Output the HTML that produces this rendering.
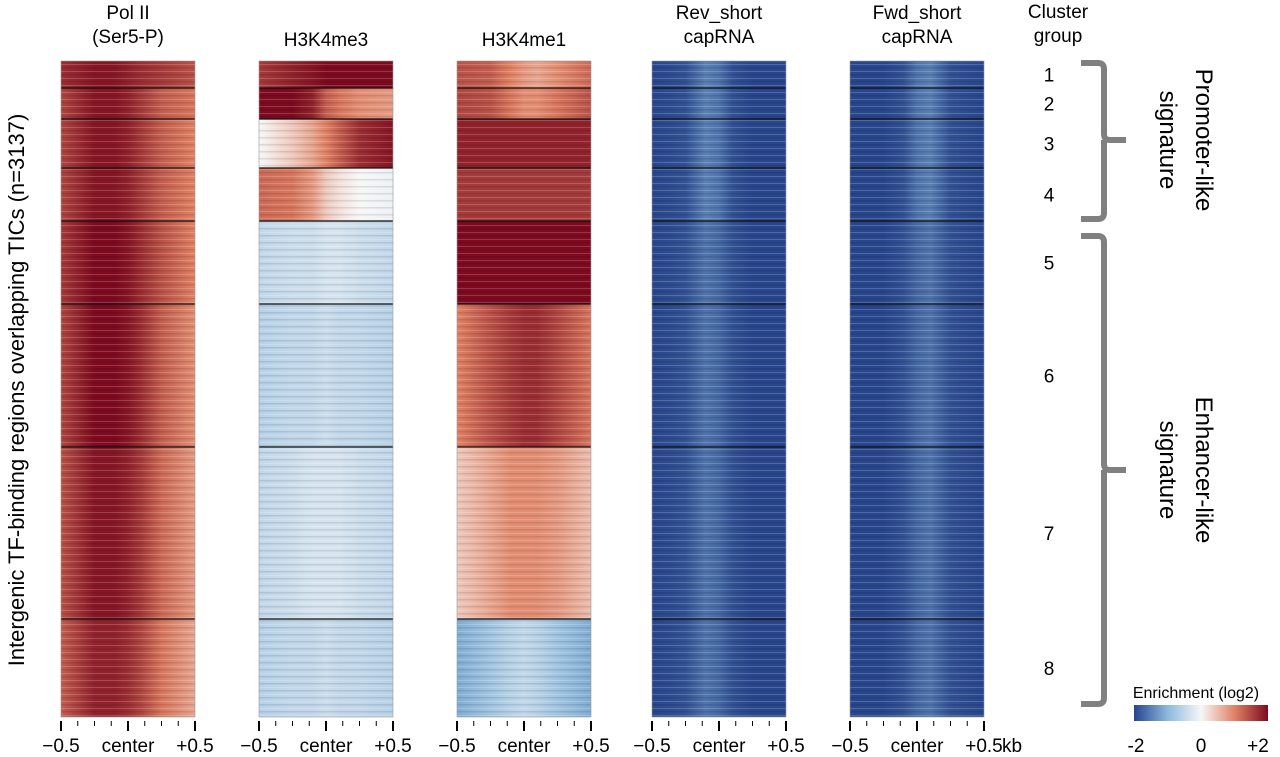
<!DOCTYPE html>
<html><head><meta charset="utf-8">
<style>
html,body{margin:0;padding:0;background:#fff;}
svg{display:block;font-family:"Liberation Sans",Arial,sans-serif;}
</style></head>
<body>
<svg id="chart" width="1280" height="757" viewBox="0 0 1280 757">
<defs id="defs">
<linearGradient id="cbar" x1="0" x2="1"><stop offset="0" stop-color="rgb(38,68,145)"/><stop offset="0.25" stop-color="rgb(140,185,220)"/><stop offset="0.5" stop-color="rgb(247,247,247)"/><stop offset="0.75" stop-color="rgb(225,130,100)"/><stop offset="1" stop-color="rgb(125,10,30)"/></linearGradient>
</defs>
<g id="panels"></g>
<g id="labels"></g>
<text x="1058" y="18" font-size="19" text-anchor="middle">Cluster</text>
<text x="1058" y="42" font-size="19" text-anchor="middle">group</text>
<text x="1002" y="752" font-size="19">kb</text>
<text transform="translate(24,390) rotate(-90)" font-size="22" text-anchor="middle">Intergenic TF-binding regions overlapping TICs (n=3137)</text>
<path d="M1081,63 L1098,63 Q1104,63 1104,69 L1104,134 Q1104,140 1110,140 L1126,140 M1104,140 Q1104,146 1104,152 L1104,213 Q1104,219 1098,219 L1081,219" fill="none" stroke="#808080" stroke-width="6"/>
<path d="M1081,236 L1098,236 Q1104,236 1104,242 L1104,464 Q1104,470 1110,470 L1126,470 M1104,470 L1104,698 Q1104,704 1098,704 L1081,704" fill="none" stroke="#808080" stroke-width="6"/>
<text transform="translate(1196,140) rotate(90)" font-size="24" text-anchor="middle">Promoter-like</text>
<text transform="translate(1160,140) rotate(90)" font-size="24" text-anchor="middle">signature</text>
<text transform="translate(1196,470) rotate(90)" font-size="24" text-anchor="middle">Enhancer-like</text>
<text transform="translate(1160,470) rotate(90)" font-size="24" text-anchor="middle">signature</text>
<text x="1196" y="698" font-size="16" text-anchor="middle">Enrichment (log2)</text>
<rect x="1134" y="705" width="134" height="16" fill="url(#cbar)"/>
<text x="1136" y="752" font-size="19" text-anchor="middle">-2</text>
<text x="1201" y="752" font-size="19" text-anchor="middle">0</text>
<text x="1258" y="752" font-size="19" text-anchor="middle">+2</text>
</svg>
<script>
// ---- data ----
const panelTitles = [["Pol II","(Ser5-P)"],["H3K4me3"],["H3K4me1"],["Rev_short","capRNA"],["Fwd_short","capRNA"]];
const clusterNames = ["1","2","3","4","5","6","7","8"];
const clusterSizes = [27,31,49,53,83,143,172,98];
const xPositions = [-0.5,-0.25,-0.1,0,0.1,0.25,0.5];
const tickLabels = ["\u22120.5","center","+0.5"];
const polII = [
 [1.7,1.9,1.9,1.8,1.7,1.6,1.4],[1.5,1.9,1.9,1.8,1.6,1.3,1.1],[1.5,1.9,1.9,1.8,1.6,1.3,1.0],
 [1.5,1.9,1.9,1.8,1.6,1.3,1.0],[1.6,2.0,2.0,1.9,1.7,1.4,1.0],[1.5,2.0,2.0,1.9,1.7,1.3,0.9],
 [1.4,1.9,1.9,1.8,1.6,1.2,0.8],[1.3,1.8,1.8,1.7,1.5,1.1,0.7]];
const h3k4me3 = [
 [1.6,1.8,1.9,2.0,2.0,2.0,2.0],[2.0,2.0,1.8,1.3,1.1,0.9,0.8],[0.0,0.4,0.7,1.0,1.3,1.7,1.9],
 [1.2,1.1,0.8,0.4,0.2,0.0,-0.1],[-0.5,-0.4,-0.4,-0.3,-0.3,-0.4,-0.5],[-0.6,-0.5,-0.5,-0.4,-0.5,-0.5,-0.6],
 [-0.5,-0.4,-0.3,-0.3,-0.3,-0.4,-0.5],[-0.6,-0.5,-0.5,-0.4,-0.5,-0.5,-0.6]];
const h3k4me1 = [
 [1.4,1.3,1.0,0.8,0.7,0.9,1.2],[1.5,1.4,1.1,0.9,0.9,1.1,1.4],[1.8,1.8,1.8,1.8,1.8,1.8,1.8],
 [1.6,1.6,1.6,1.6,1.6,1.6,1.6],[2.0,2.0,2.0,2.0,2.0,2.0,2.0],[1.0,1.4,1.6,1.7,1.7,1.5,1.1],
 [0.4,0.7,0.9,0.9,0.9,0.8,0.5],[-1.1,-0.8,-0.6,-0.5,-0.6,-0.8,-1.1]];
const revCap = [
 [-2.0,-1.9,-1.5,-1.6,-1.9,-2.0,-2.0],[-2.0,-1.9,-1.5,-1.6,-1.9,-2.0,-2.0],[-2.0,-1.9,-1.5,-1.6,-1.9,-2.0,-2.0],
 [-2.0,-1.9,-1.5,-1.6,-1.9,-2.0,-2.0],[-2.0,-1.9,-1.6,-1.7,-1.9,-2.0,-2.0],[-2.0,-1.9,-1.6,-1.7,-1.9,-2.0,-2.0],
 [-2.0,-1.9,-1.6,-1.7,-1.9,-2.0,-2.0],[-2.0,-1.9,-1.6,-1.7,-1.9,-2.0,-2.0]];
const fwdCap = [
 [-2.0,-2.0,-1.9,-1.6,-1.5,-1.9,-2.0],[-2.0,-2.0,-1.9,-1.6,-1.5,-1.9,-2.0],[-2.0,-2.0,-1.9,-1.6,-1.5,-1.9,-2.0],
 [-2.0,-2.0,-1.9,-1.6,-1.5,-1.9,-2.0],[-2.0,-2.0,-1.9,-1.7,-1.6,-1.9,-2.0],[-2.0,-2.0,-1.9,-1.7,-1.6,-1.9,-2.0],
 [-2.0,-2.0,-1.9,-1.7,-1.6,-1.9,-2.0],[-2.0,-2.0,-1.9,-1.7,-1.6,-1.9,-2.0]];
const panelData = [polII,h3k4me3,h3k4me1,revCap,fwdCap];
const panelNames = ["pol-ii","h3k4me3","h3k4me1","rev-capRNA","fwd-capRNA"];

// ---- layout ----
const NS="http://www.w3.org/2000/svg";
const panelLeft=[61,259,457,652,850], panelW=134, plotTop=61, plotBottom=717;
const totalRows=clusterSizes.reduce((a,b)=>a+b,0);
function yScale(n){return plotTop+(plotBottom-plotTop)*n/totalRows;}
function xScale(i,v){return panelLeft[i]+(v+0.5)*panelW;}
const cstops=[[-2,[40,70,140]],[-1,[140,185,220]],[0,[247,247,247]],[1,[225,130,100]],[2,[125,10,30]]];
function color(v){v=Math.max(-2,Math.min(2,v));for(let k=0;k<cstops.length-1;k++){const a=cstops[k],b=cstops[k+1];if(v<=b[0]){const t=(v-a[0])/(b[0]-a[0]);return "rgb("+a[1].map((c,j)=>Math.round(c+(b[1][j]-c)*t)).join(",")+")";}}return "rgb(125,10,30)";}
function mk(tag,attrs,parent){const e=document.createElementNS(NS,tag);for(const k in attrs)e.setAttribute(k,attrs[k]);parent.appendChild(e);return e;}
const defsEl=document.getElementById('defs'), G=document.getElementById('panels'), L=document.getElementById('labels');
const pat=mk('pattern',{id:'tex',width:'11',height:'7',patternUnits:'userSpaceOnUse'},defsEl);
mk('rect',{x:0,y:1,width:11,height:1,fill:'#fff',opacity:'0.18'},pat);
mk('rect',{x:0,y:4,width:11,height:1.5,fill:'#000',opacity:'0.1'},pat);

panelData.forEach((data,i)=>{
  const g=mk('g',{},G);
  
  
  let cum=0;
  data.forEach((prof,c)=>{
    const id='g'+i+'_'+c;
    const lg=mk('linearGradient',{id:id,x1:'0',x2:'1',y1:'0',y2:'0'},defsEl);
    prof.forEach((v,k)=>mk('stop',{offset:(xPositions[k]+0.5),'stop-color':color(v)},lg));
    const y0=yScale(cum), y1=yScale(cum+clusterSizes[c]);
    const r=mk('rect',{x:xScale(i,-0.5),y:y0,width:xScale(i,0.5)-xScale(i,-0.5),height:y1-y0,fill:'url(#'+id+')'},g);
    
    
    mk('rect',{x:xScale(i,-0.5),y:y0,width:panelW,height:y1-y0,fill:'url(#tex)'},g);
    if(c>0){mk('line',{x1:xScale(i,-0.5),x2:xScale(i,0.5),y1:y0,y2:y0,stroke:'#111','stroke-width':1.2},g);}
    cum+=clusterSizes[c];
  });
  mk('rect',{x:panelLeft[i],y:plotTop,width:panelW,height:plotBottom-plotTop,fill:'none',stroke:'#999','stroke-width':0.6},g);
  [-0.5,-0.375,-0.25,-0.125,0,0.125,0.25,0.375,0.5].forEach((t,k)=>{
    const major=(k%4===0);
    const tk=mk('line',{x1:xScale(i,t),x2:xScale(i,t),y1:721,y2:major?731:726,stroke:'#000','stroke-width':major?2:1},g);
    
    
  });
  [-0.5,0,0.5].forEach((t,k)=>{
    const tx=mk('text',{x:xScale(i,t),y:752,'font-size':'19','text-anchor':'middle',fill:'#000'},L);
    tx.textContent=tickLabels[k];
    
    
  });
  const cx=panelLeft[i]+panelW/2;
  const lines=panelTitles[i];
  lines.forEach((s,k)=>{
    const y= lines.length===2 ? 19+k*24 : 46;
    const tx=mk('text',{x:cx,y:y,'font-size':'19','text-anchor':'middle',fill:'#000'},L);
    tx.textContent=s;
    
    
  });
});
let cum2=0;
clusterNames.forEach((n,c)=>{
  const y=yScale(cum2+clusterSizes[c]/2)+7;
  const tx=mk('text',{x:1049,y:y,'font-size':'19','text-anchor':'middle',fill:'#000'},L);
  tx.textContent=n;
  
  
  cum2+=clusterSizes[c];
});
</script>
</body></html>
